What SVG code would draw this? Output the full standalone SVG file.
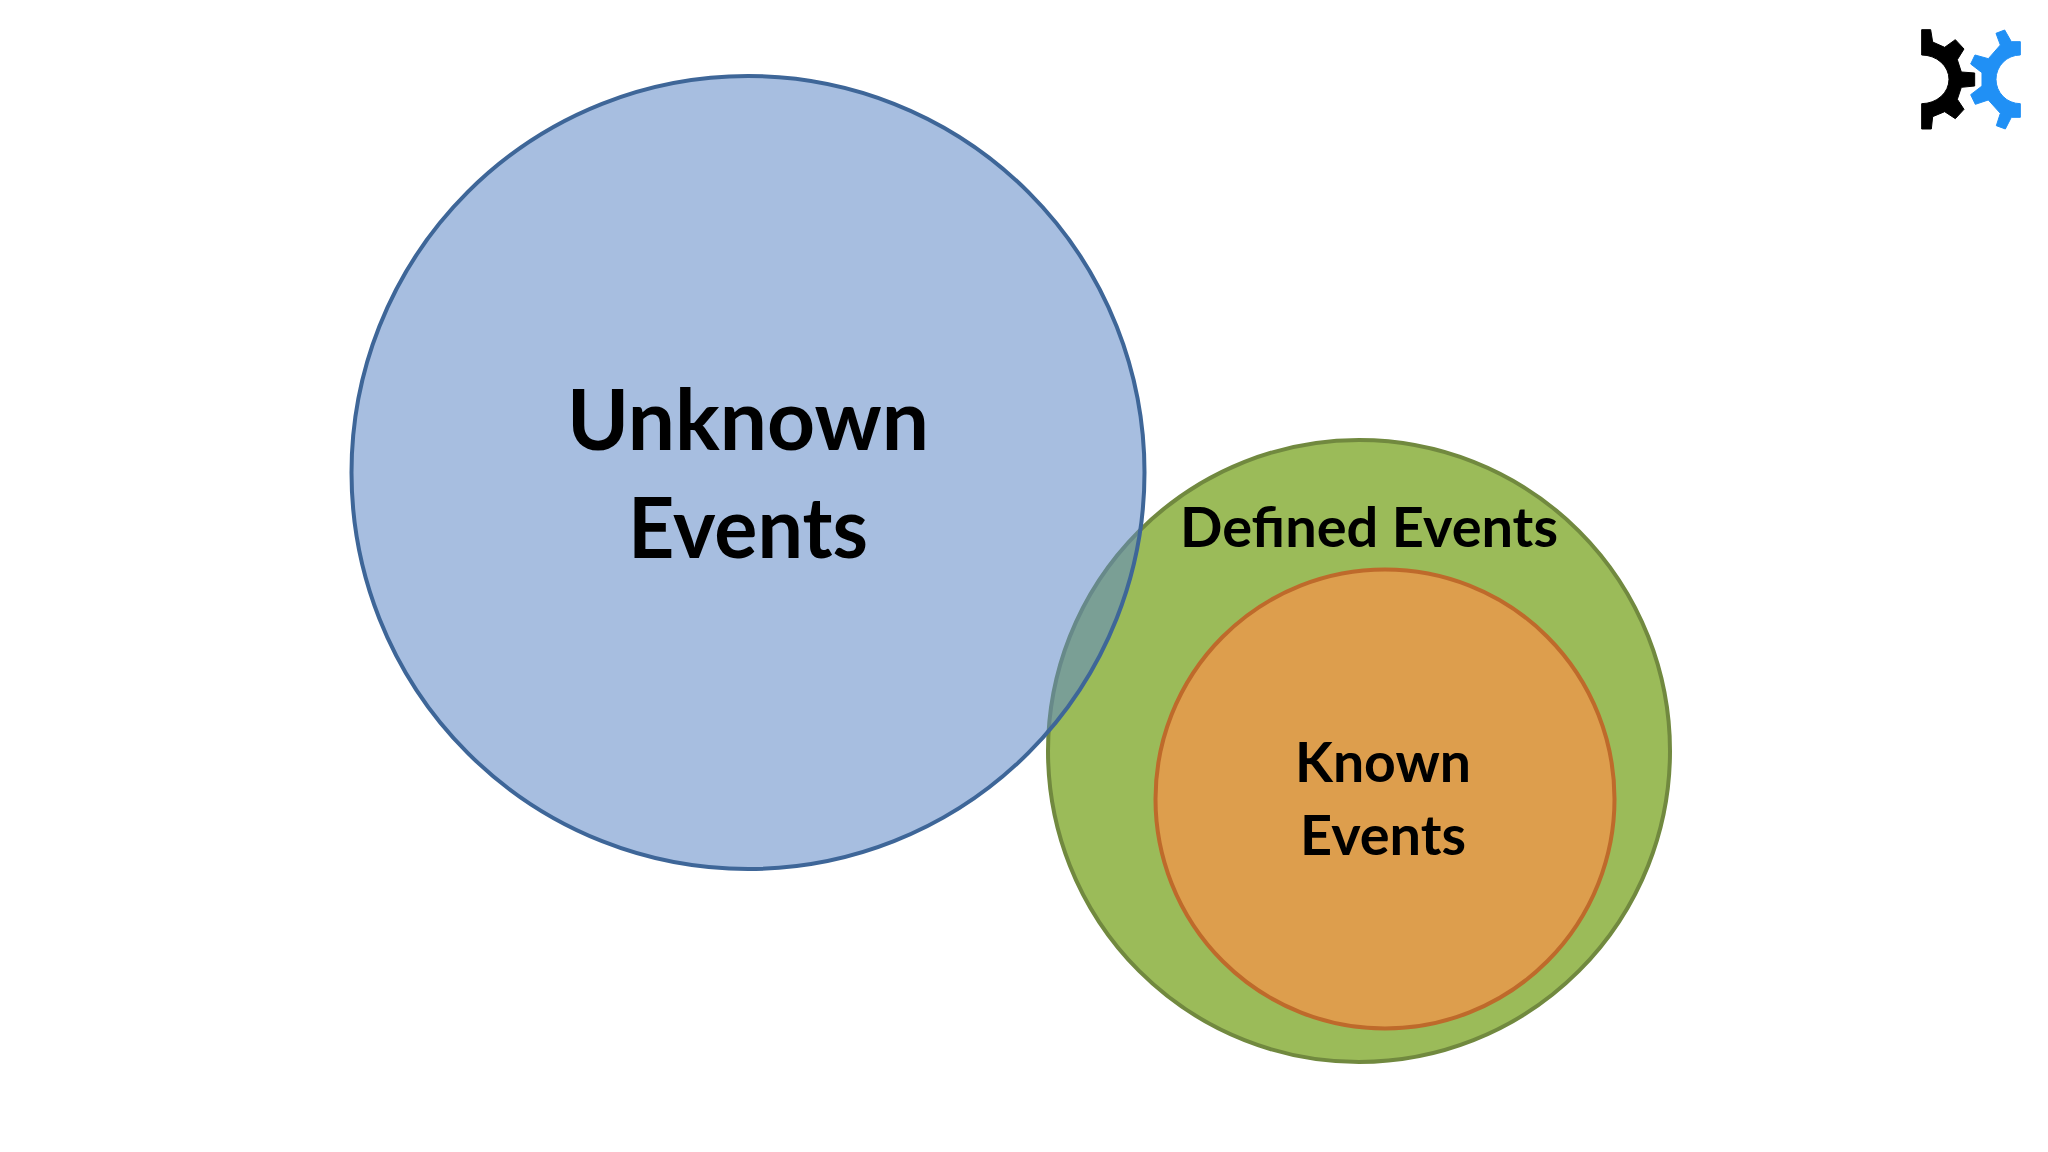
<svg xmlns="http://www.w3.org/2000/svg" width="2048" height="1152" viewBox="0 0 2048 1152">
<style>
text{font-family:"Lato","Open Sans","Liberation Sans",sans-serif;font-weight:700;fill:#000;text-anchor:middle}
.big{font-size:84px}.mid{font-size:55px}
</style>
<rect width="2048" height="1152" fill="#fff"/>
<g id="defined-events">
<circle cx="1359" cy="751" r="311" fill="#9BBB59" stroke="#71893F" stroke-width="4"/>
<text class="mid" x="1369" y="547" textLength="378" lengthAdjust="spacingAndGlyphs">Defined Events</text>
</g>
<g id="known-events">
<circle cx="1385" cy="799" r="229.5" fill="#DD9E4D" stroke="#BE6A2B" stroke-width="4"/>
<text class="mid" x="1383" y="782" textLength="176" lengthAdjust="spacingAndGlyphs">Known</text>
<text class="mid" x="1383" y="855" textLength="166" lengthAdjust="spacingAndGlyphs">Events</text>
</g>
<g id="unknown-events">
<circle cx="748" cy="472.5" r="396.5" fill="#5F89C7" fill-opacity=".55" stroke="#3E6698" stroke-width="4"/>
<text class="big" x="748" y="450" textLength="362" lengthAdjust="spacingAndGlyphs">Unknown</text>
<text class="big" x="748" y="558" textLength="240" lengthAdjust="spacingAndGlyphs">Events</text>
</g>
<g id="logo" transform="translate(1880 0) scale(.33333)" stroke-width="3" stroke-linejoin="round">
<path fill="#000" stroke="#000" d="M125 89H152L158 126L194 142L226 119L252 147L232 179L244 216L284 219V258L244 262L232 298L252 328L226 356L194 335L158 350L154 387H125V311A82 73 0 0 0 125 165Z"/>
<path fill="#2090F5" stroke="#2090F5" d="M348 100L374 90L394 125H421V165A73 73 0 0 0 421 311V352H394L376 387L349 377L361 340L325 300L286 313L272 284L306 258V218L272 192L285 165L325 176L361 135Z"/>
</g>
</svg>
